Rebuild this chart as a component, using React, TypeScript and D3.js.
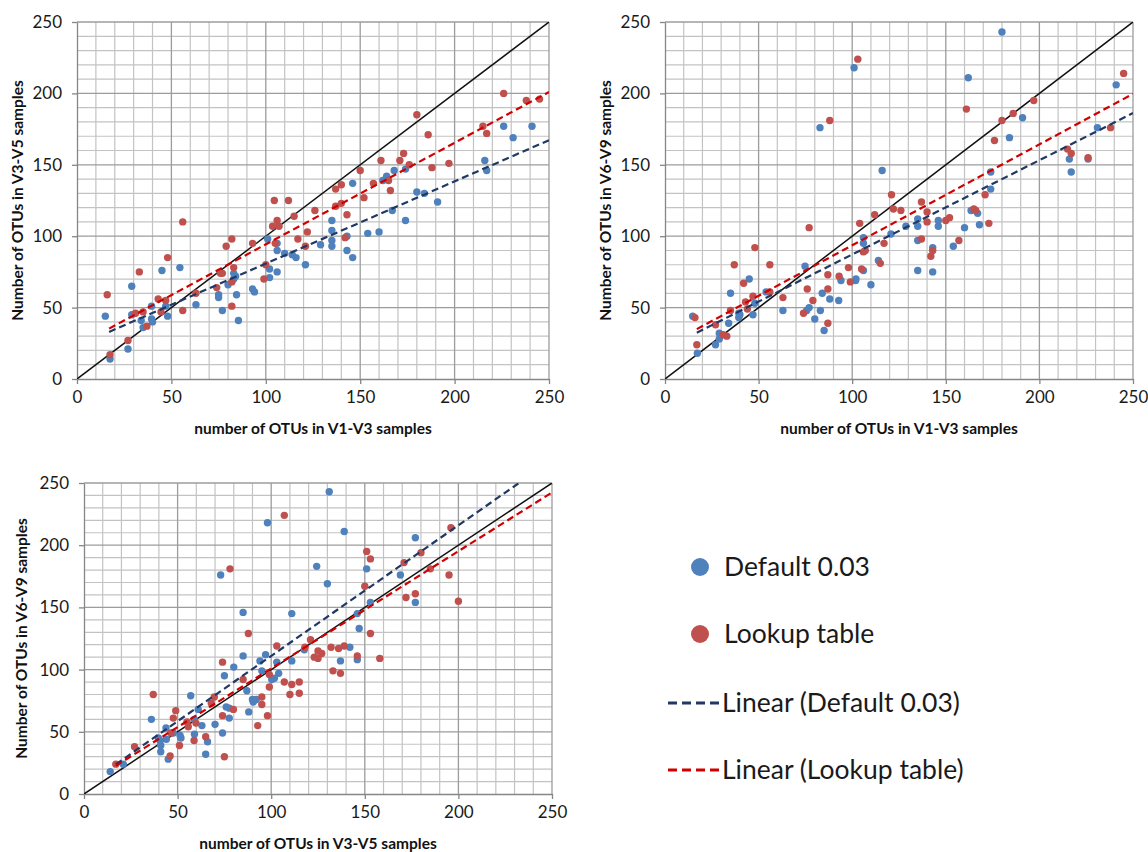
import { useEffect, useRef } from "react";
import * as d3 from "d3";

type Pt = [number, number];

// axis ticks / grid
const MAJOR_TICKS = [0, 50, 100, 150, 200, 250];
const MINOR_TICKS = [10, 20, 30, 40, 60, 70, 80, 90, 110, 120, 130, 140, 160, 170, 180, 190, 210, 220, 230, 240];

// legend labels
const SERIES_LABELS = ["Default 0.03", "Lookup table"];
const TREND_LABELS = ["Linear (Default 0.03)", "Linear (Lookup table)"];

// panel 1: V1-V3 vs V3-V5
const P1_DEFAULT: Pt[] = [
  [15, 44], [17.5, 14], [27, 21], [29, 65], [29, 45], [34, 41], [35, 36], [39.5, 51], [39.5, 42], [40, 40],
  [45, 76], [47, 51], [48, 44], [54.5, 78], [63, 52], [75, 59], [75, 57], [77, 48], [80, 66], [83, 74],
  [84, 72], [84.5, 59], [85.5, 41], [83, 70], [93, 63], [94, 61], [101, 98], [102, 77], [102, 71], [106, 95],
  [106, 90], [106, 75], [110, 88], [114, 87], [116, 85], [121, 80], [129, 94], [135, 111], [135, 104], [135, 97],
  [135, 93], [143, 100], [143, 90], [146, 85], [154, 102], [160, 103], [167, 118], [174, 111], [191, 124], [146, 137],
  [162, 139], [164, 142], [168, 146], [174, 147], [180, 131], [184, 130], [216, 153], [217, 146], [226, 177], [231, 169],
  [241, 177],
];
const P1_LOOKUP: Pt[] = [
  [16, 59], [17.5, 17], [27, 27], [31, 46], [33, 75], [35, 47], [37, 37], [43, 56], [44.5, 47], [47, 55],
  [48, 85], [56, 110], [56, 48], [63, 60], [74, 64], [76, 74], [77, 74], [79, 93], [82, 98], [82, 68],
  [82, 51], [83, 78], [93, 95], [99, 70], [100, 80], [104.5, 125], [112, 125], [103.6, 107], [105, 95], [106, 111],
  [107, 107], [115, 114], [117, 98], [126, 118], [143, 115], [137, 121], [140, 123], [122, 103], [121, 93], [142, 99],
  [137, 133], [140, 136], [150, 146], [152, 127], [157, 137], [161, 153], [165, 139], [166, 132], [171, 153], [173, 158],
  [176, 150], [180, 185], [186, 171], [188, 148], [197, 151], [215, 177], [217, 172], [226, 200], [238, 195], [245, 196],
];
// trend lines: [slope, intercept, xStart, xEnd]
const P1_TREND_DEFAULT = [0.576, 23.2, 17, 250];
const P1_TREND_LOOKUP = [0.711, 23.2, 17, 250];

// panel 2: V1-V3 vs V6-V9
const P2_DEFAULT: Pt[] = [
  [14.8, 44], [17.3, 18], [27, 24], [29, 32], [29, 28], [34, 39], [35, 60], [39.4, 46], [39.4, 43], [40, 45],
  [45, 70], [47, 45], [48, 53], [54, 61], [63, 48], [74.8, 79], [75.7, 48], [77, 50], [80, 42], [83, 48],
  [84, 60], [85, 34], [88, 56], [92.8, 55], [94, 69], [101.8, 69], [102, 70], [106, 99], [106, 95], [106, 76],
  [110, 66], [114, 83], [82.8, 176], [101, 218], [116, 146], [120.7, 101.5], [128.7, 107], [135, 112], [135, 107], [135, 97],
  [135, 76], [143, 92], [143, 75], [146, 111], [146, 107], [154, 93], [160, 106], [163.5, 118], [167, 116], [168, 108],
  [174, 145], [174, 133], [162, 211], [180, 243], [184, 169], [191, 183], [216, 154], [217, 145], [226, 154], [231, 176],
  [241, 206],
];
const P2_LOOKUP: Pt[] = [
  [16, 43], [17, 24], [27, 38], [31, 31], [33, 30], [35, 48], [37, 80], [42, 67], [43, 54], [44, 49],
  [47, 58], [48, 92], [56, 80], [56, 61], [63, 57], [74, 46], [76, 63], [77, 106], [79, 55], [87, 63],
  [87, 39], [87, 73], [93, 72], [98, 78], [99, 68], [104, 109], [105, 77], [106, 89], [107, 90], [112, 115],
  [115, 81], [117, 95], [88, 181], [103, 224], [121, 129], [122, 119], [126, 118], [137, 124], [140, 117], [137, 98],
  [140, 110], [142, 86], [143, 90], [150, 111], [152, 113], [157, 97], [161, 189], [165, 119], [166, 118], [171, 129],
  [173, 109], [176, 167], [180, 181], [186, 186], [197, 195], [215, 161], [217, 158], [226, 155], [238, 176], [245, 214],
];
const P2_TREND_DEFAULT = [0.66, 21.2, 17, 250];
const P2_TREND_LOOKUP = [0.707, 22.9, 17, 250];

// panel 3: V3-V5 vs V6-V9
const P3_DEFAULT: Pt[] = [
  [14, 18], [21, 24], [36, 60], [39.7, 45], [40.6, 43], [41, 39], [41, 34], [43.8, 53], [44, 44], [47.7, 49],
  [45, 28], [51.3, 47], [51.8, 45], [57, 79], [58.8, 60], [59, 48], [61, 68], [63, 55], [65, 32], [66, 42],
  [70, 56], [74, 49], [75, 95], [76, 70], [77.6, 69], [77.6, 61], [80, 102], [85, 111], [87, 83], [88, 66],
  [90, 76], [90.4, 74], [92, 76], [95, 99], [94, 107], [97, 112], [100.3, 92], [101.7, 93], [104, 97], [103, 106],
  [111, 107], [73, 176], [98, 218], [85, 146], [111, 145], [117.7, 116], [124.3, 183], [130, 169], [131, 243], [137, 107],
  [139, 211], [142, 118], [146, 145], [147, 133], [146, 108], [151, 181], [153, 154], [169, 176], [177, 206], [177, 154],
];
const P3_LOOKUP: Pt[] = [
  [17, 24], [27, 38], [37, 80], [46.5, 49], [46, 30.5], [47.7, 61], [49, 67], [51, 39], [55, 58], [55.7, 54],
  [59.8, 57], [58.8, 43], [65, 46], [68, 73], [69.6, 78], [74, 63], [75, 30], [74, 106], [79.8, 68], [78, 181],
  [85, 92], [87.8, 129], [92.8, 55], [95, 78], [95, 72], [98, 63], [99, 96], [99, 86], [103, 119], [107, 224],
  [107, 90], [111, 88], [115, 90], [110, 80], [115, 81], [118, 118], [121, 124], [123, 110], [125, 115], [125, 109],
  [127, 113], [132, 118], [133, 99], [137, 97], [136, 117], [139, 119], [146, 111], [150, 167], [151, 195], [153, 189],
  [153, 129], [158, 109], [171, 186], [172, 158], [177, 161], [180, 194], [185, 181], [195, 176], [196, 214], [200, 155],
];
const P3_TREND_DEFAULT = [1.05, 6, 17, 232];
const P3_TREND_LOOKUP = [0.943, 6.6, 17, 250];

const BLUE = "#4f81bd";
const RED = "#c0504d";
const NAVY = "#1f3864";
const TREND_RED = "#d00000";
const FONT = "Lato, 'Open Sans', sans-serif";

const PANELS = [
  { id: "p1", box: [77, 549, 22, 379], xTitle: "number of OTUs in V1-V3 samples", yTitle: "Number of OTUs in V3-V5 samples", yTitleX: 18,
    def: P1_DEFAULT, look: P1_LOOKUP, tDef: P1_TREND_DEFAULT, tLook: P1_TREND_LOOKUP },
  { id: "p2", box: [665, 1133, 22, 379], xTitle: "number of OTUs in V1-V3 samples", yTitle: "Number of OTUs in V6-V9 samples", yTitleX: 606,
    def: P2_DEFAULT, look: P2_LOOKUP, tDef: P2_TREND_DEFAULT, tLook: P2_TREND_LOOKUP },
  { id: "p3", box: [84, 552, 483, 794], xTitle: "number of OTUs in V3-V5 samples", yTitle: "Number of OTUs in V6-V9 samples", yTitleX: 22,
    def: P3_DEFAULT, look: P3_LOOKUP, tDef: P3_TREND_DEFAULT, tLook: P3_TREND_LOOKUP },
];

export default function App() {
  const svgRef = useRef<SVGSVGElement>(null);

  useEffect(() => {
    if (!svgRef.current) return;
    const svg = d3.select(svgRef.current);
    svg.selectAll("*").remove();

    PANELS.forEach(p => {
      const [x0, x1, yTop, yBot] = p.box;
      const x = d3.scaleLinear().domain([0, 250]).range([x0, x1]);
      const y = d3.scaleLinear().domain([0, 250]).range([yBot, yTop]);
      const g = svg.append("g");

      g.append("clipPath").attr("id", `clip-${p.id}`)
        .append("rect").attr("x", x0).attr("y", yTop).attr("width", x1 - x0).attr("height", yBot - yTop);

      // grid
      const grid = (vals: number[], color: string, w: number) => {
        g.selectAll(null).data(vals).join("line")
          .attr("x1", d => x(d)).attr("x2", d => x(d)).attr("y1", yTop).attr("y2", yBot)
          .attr("stroke", color).attr("stroke-width", w);
        g.selectAll(null).data(vals).join("line")
          .attr("x1", x0).attr("x2", x1).attr("y1", d => y(d)).attr("y2", d => y(d))
          .attr("stroke", color).attr("stroke-width", w);
      };
      grid(MINOR_TICKS, "#c3c3c3", 1.2);
      grid(MAJOR_TICKS.slice(1), "#9c9c9c", 1.3);

      // axes
      const ax = g.append("g").attr("transform", `translate(0,${yBot})`)
        .call(d3.axisBottom(x).tickValues(MAJOR_TICKS).tickSizeInner(5).tickSizeOuter(0).tickPadding(7));
      const ay = g.append("g").attr("transform", `translate(${x0},0)`)
        .call(d3.axisLeft(y).tickValues(MAJOR_TICKS).tickSizeInner(5).tickSizeOuter(0).tickPadding(10));
      [ax, ay].forEach(a => {
        a.selectAll("path, line").attr("stroke", "#868686").attr("stroke-width", 1.3);
        a.selectAll("text").attr("fill", "#1a1a1a").style("font-size", "17px").style("font-family", FONT);
      });

      const plot = g.append("g").attr("clip-path", `url(#clip-${p.id})`);

      // y = x reference
      plot.append("line")
        .attr("x1", x(0)).attr("y1", y(0)).attr("x2", x(250)).attr("y2", y(250))
        .attr("stroke", "#111").attr("stroke-width", 1.5);

      // points
      plot.selectAll(null).data(p.def).join("circle")
        .attr("cx", d => x(d[0])).attr("cy", d => y(d[1])).attr("r", 3.7).attr("fill", BLUE);
      plot.selectAll(null).data(p.look).join("circle")
        .attr("cx", d => x(d[0])).attr("cy", d => y(d[1])).attr("r", 3.7).attr("fill", RED);

      // trend lines
      [[p.tDef, NAVY], [p.tLook, TREND_RED]].forEach(([t, c]) => {
        const [m, b, s, e] = t as number[];
        const lf = d3.line<number>().x(d => x(d)).y(d => y(m * d + b));
        plot.append("path").attr("d", lf([s, e]))
          .attr("fill", "none").attr("stroke", c as string).attr("stroke-width", 2.2).attr("stroke-dasharray", "7,4");
      });

      // titles
      g.append("text").attr("x", (x0 + x1) / 2).attr("y", yBot + 55)
        .attr("text-anchor", "middle").style("font-family", FONT).style("font-size", "15.5px").style("font-weight", "bold")
        .attr("fill", "#111").text(p.xTitle);
      g.append("text").attr("transform", `translate(${p.yTitleX},${(yTop + yBot) / 2}) rotate(-90)`)
        .attr("text-anchor", "middle").attr("dy", "0.35em").style("font-family", FONT).style("font-size", "15.5px").style("font-weight", "bold")
        .attr("fill", "#111").text(p.yTitle);
    });

    // legend
    const lg = svg.append("g");
    const rows = [567, 634, 703, 770];
    lg.selectAll(null).data(SERIES_LABELS).join("circle")
      .attr("cx", 700).attr("cy", (_, i) => rows[i]).attr("r", 9).attr("fill", (_, i) => (i === 0 ? BLUE : RED));
    lg.selectAll(null).data(TREND_LABELS).join("line")
      .attr("x1", 668).attr("x2", 720).attr("y1", (_, i) => rows[i + 2]).attr("y2", (_, i) => rows[i + 2])
      .attr("stroke", (_, i) => (i === 0 ? NAVY : TREND_RED)).attr("stroke-width", 3).attr("stroke-dasharray", "9,5");
    lg.selectAll(null).data([...SERIES_LABELS, ...TREND_LABELS]).join("text")
      .attr("x", (_, i) => (i < 2 ? 724 : 722)).attr("y", (_, i) => rows[i]).attr("dy", "0.35em")
      .style("font-family", FONT).style("font-size", "26.5px").attr("fill", "#1a1a1a").text(d => d);
  }, []);

  return (
    <svg ref={svgRef} width={1148} height={852}
      style={{ position: "absolute", left: 0, top: 0, background: "#fff", display: "block" }} />
  );
}
